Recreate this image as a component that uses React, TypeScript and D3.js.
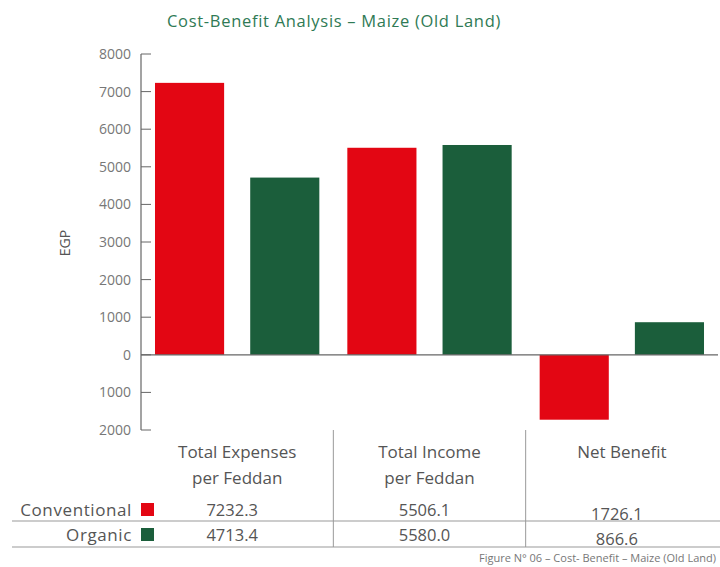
import React from "react";
import * as d3 from "d3";

const categories = ["Total Expenses per Feddan", "Total Income per Feddan", "Net Benefit"];
const categoryLines = [["Total Expenses", "per Feddan"], ["Total Income", "per Feddan"], ["Net Benefit"]];
const seriesNames = ["Conventional", "Organic"];
const conventional = [7232.3, 5506.1, -1726.1];
const organic = [4713.4, 5580.0, 866.6];
const tableConventional = ["7232.3", "5506.1", "1726.1"];
const tableOrganic = ["4713.4", "5580.0", "866.6"];
const yTicks = [8000, 7000, 6000, 5000, 4000, 3000, 2000, 1000, 0, -1000, -2000];
const yTickLabels = ["8000", "7000", "6000", "5000", "4000", "3000", "2000", "1000", "0", "1000", "2000"];
const colors = ["#e30613", "#1b5e3b"];

const W = 720, H = 567;
const FONT = "'Open Sans', 'Noto Sans', sans-serif";

export default function App() {
  const x0 = d3.scaleBand<string>().domain(categories).range([141, 718]).padding(0);
  const x1 = d3.scaleBand<string>().domain(seriesNames).range([0, x0.bandwidth()]).paddingInner(0.274).paddingOuter(0.147);
  const y = d3.scaleLinear().domain([-2000, 8000]).range([430, 54]);
  const series = [conventional, organic];
  const tables = [tableConventional, tableOrganic];
  const rowY = [510, 535];

  return (
    <svg width={W} height={H} style={{ position: "absolute", left: 0, top: 0, background: "#fff" }} fontFamily={FONT}>
      <text x={334} y={27} textAnchor="middle" fontSize={16.5} letterSpacing={0.7} fill="#2f7a55">Cost-Benefit Analysis – Maize (Old Land)</text>
      {/* y axis */}
      <line x1={141} x2={141} y1={y(8000)} y2={y(-2000)} stroke="#666" strokeWidth={1.2} />
      {yTicks.map((t, i) => (
        <g key={t + "_" + i}>
          <line x1={141} x2={151} y1={y(t)} y2={y(t)} stroke="#666" strokeWidth={1} />
          <text x={131} y={y(t) + 5} textAnchor="end" fontSize={14} fill="#777">{yTickLabels[i]}</text>
        </g>
      ))}
      <text transform={`translate(70,243) rotate(-90)`} textAnchor="middle" fontSize={14} fill="#555">EGP</text>
      {/* bars */}
      {categories.map((c, ci) => (
        <g key={c} transform={`translate(${x0(c)},0)`}>
          {seriesNames.map((s, si) => {
            const v = series[si][ci];
            return (
              <rect key={s} x={x1(s)} width={x1.bandwidth()} y={y(Math.max(0, v))} height={Math.abs(y(v) - y(0))} fill={colors[si]} />
            );
          })}
        </g>
      ))}
      <line x1={141} x2={718} y1={y(0)} y2={y(0)} stroke="#666" strokeWidth={1.2} />
      {/* table */}
      {categories.slice(1).map((c) => (
        <line key={c} x1={x0(c)} x2={x0(c)} y1={430} y2={547} stroke="#999" strokeWidth={1} />
      ))}
      {categories.map((c, ci) => (
        <text key={c} x={(x0(c) as number) + x0.bandwidth() / 2} y={458} textAnchor="middle" fontSize={17} fill="#555">
          {categoryLines[ci].map((l, li) => (
            <tspan key={li} x={(x0(c) as number) + x0.bandwidth() / 2} dy={li === 0 ? 0 : 26}>{l}</tspan>
          ))}
        </text>
      ))}
      <line x1={12} x2={720} y1={521} y2={521} stroke="#999" strokeWidth={1} />
      <line x1={12} x2={720} y1={547} y2={547} stroke="#999" strokeWidth={1} />
      {seriesNames.map((s, si) => (
        <g key={s}>
          <text x={132} y={rowY[si] + 6} textAnchor="end" fontSize={17} letterSpacing={0.6} fill="#555">{s}</text>
          <rect x={141} y={rowY[si] - 7} width={13} height={13} fill={colors[si]} />
          {categories.map((c, ci) => (
            <text key={c} x={(x0(c) as number) + x0.bandwidth() / 2 - 5} y={rowY[si] + 6 + (ci === 2 ? 4 : 0)} textAnchor="middle" fontSize={16.5} fill="#555">{tables[si][ci]}</text>
          ))}
        </g>
      ))}
      <text x={716} y={562} textAnchor="end" fontSize={11} fill="#777">Figure N° 06 – Cost- Benefit – Maize (Old Land)</text>
    </svg>
  );
}
